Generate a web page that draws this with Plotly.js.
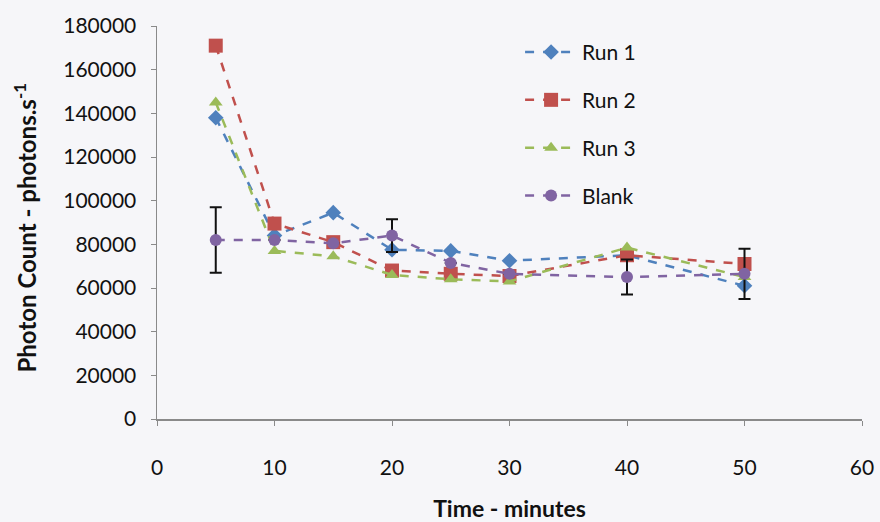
<!DOCTYPE html>
<html>
<head>
<meta charset="utf-8">
<script src="https://cdn.plot.ly/plotly-3.0.1.min.js"></script>
<style>
html,body{margin:0;padding:0;background:#f6f6f9;}
#chart{width:880px;height:522px;}
</style>
</head>
<body>
<div id="chart"></div>
<script>
const time = [5, 10, 15, 20, 25, 30, 40, 50];
const run1 = [138000, 84000, 94500, 77500, 77000, 72500, 75000, 61000];
const run2 = [171000, 89500, 81000, 68000, 66500, 65500, 75000, 71000];
const run3 = [145000, 77000, 74500, 66000, 64000, 63000, 78500, 65000];
const blank = [82000, 82000, 80500, 84000, 71500, 66500, 65000, 66500];
const blankErr = [15000, 0, 0, 7500, 0, 0, 8000, 11500];
const blankErrVisible = [true, false, false, true, false, false, true, true];

const names = ['Run 1', 'Run 2', 'Run 3', 'Blank'];
const colors = ['#4F81BD', '#C0504D', '#9BBB59', '#8064A2'];
const symbols = ['diamond', 'square', 'triangle-up', 'circle'];
const sizes = [12, 14, 12, 12];
const series = [run1, run2, run3, blank];

const traces = series.map((ys, i) => {
  const t = {
    x: time, y: ys, name: names[i], type: 'scatter', mode: 'lines+markers',
    legendgroup: 'g' + i,
    line: {color: colors[i], width: 2.5, dash: 'dash'},
    marker: {color: colors[i], symbol: symbols[i], size: sizes[i]}
  };
  if (i === 3) {
    t.error_y = {type: 'data', array: blankErr.map((e, k) => blankErrVisible[k] ? e : 0),
      visible: true, color: '#111', thickness: 2, width: 6};
  }
  return t;
});

const font = 'Lato, "Open Sans", sans-serif';
const layout = {
  width: 880, height: 522,
  paper_bgcolor: '#f6f6f9', plot_bgcolor: 'rgba(0,0,0,0)',
  margin: {l: 157, r: 18, t: 26, b: 103},
  font: {family: font, size: 21, color: '#111'},
  showlegend: true,
  legend: {x: 0.515, y: 0.985, xanchor: 'left', yanchor: 'top', bgcolor: 'rgba(0,0,0,0)',
    itemwidth: 52, tracegroupgap: 17.5, font: {family: font, size: 21, color: '#111'}},
  xaxis: {
    range: [0, 60], dtick: 10, tick0: 0, showgrid: false, zeroline: false,
    showline: true, linecolor: '#8a8a8a', linewidth: 1.5,
    ticks: 'outside', ticklen: 5, tickcolor: '#8a8a8a', ticklabelstandoff: 24,
    tickfont: {family: font, size: 21},
    title: {text: '<b>Time - minutes</b>', font: {family: font, size: 23}, standoff: 29}
  },
  yaxis: {
    range: [0, 180000], dtick: 20000, showgrid: false, zeroline: false,
    showline: true, linecolor: '#8a8a8a', linewidth: 1.5,
    ticks: 'outside', ticklen: 5, tickcolor: '#8a8a8a', ticklabelstandoff: 10,
    tickformat: 'd', tickfont: {family: font, size: 21}
  },
  annotations: [{
    text: '<b>Photon Count - photons.s<sup>-1</sup></b>',
    xref: 'paper', yref: 'paper', x: 0, y: 0.5, xanchor: 'center', yanchor: 'middle',
    xshift: -133, yshift: -6, textangle: -90, showarrow: false,
    font: {family: font, size: 24, color: '#111'}
  }]
};

Plotly.newPlot('chart', traces, layout, {displayModeBar: false, staticPlot: true});
</script>
</body>
</html>
